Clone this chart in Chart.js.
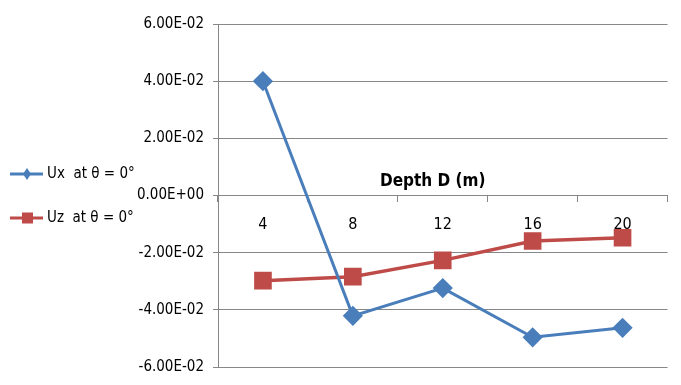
<!DOCTYPE html>
<html>
<head>
<meta charset="utf-8">
<title>Displacement vs depth</title>
<script src="https://cdn.jsdelivr.net/npm/chart.js@4/dist/chart.umd.min.js"></script>
<style>
  html, body { margin: 0; padding: 0; background: #fff; }
  #wrap { width: 681px; height: 385px; }
</style>
</head>
<body>
<div id="wrap"><canvas id="chart" width="681" height="385"></canvas></div>
<script>
// depth categories (m) and displacements at theta = 0
const depths = ['4', '8', '12', '16', '20'];
const uxValues = [0.0400, -0.0421, -0.0324, -0.0496, -0.0463];
const uzValues = [-0.0298, -0.0284, -0.0227, -0.0159, -0.0148];
const seriesNames = ['Ux  at \u03B8 = 0\u00B0', 'Uz  at \u03B8 = 0\u00B0'];
const axisTitle = 'Depth D (m)';

const FONT = '"Liberation Sans Narrow", "DejaVu Sans Condensed", sans-serif';
const GRID = '#878787';

// 6.00E-02 style labels
function sciLabel(v) {
    if (Math.abs(v) < 1e-12) v = 0;
    const [m, e] = v.toExponential(2).split('e');
    const sign = e[0] === '-' ? '-' : '+';
    const digits = e.replace(/[+-]/, '').padStart(2, '0');
    return m + 'E' + sign + digits;
}

// legend on the left side, line sample with marker
const sideLegend = {
    id: 'sideLegend',
    afterDraw(chart) {
        const ctx = chart.ctx;
        const rows = [174, 218];
        chart.data.datasets.forEach((ds, i) => {
            const y = rows[i];
            ctx.save();
            ctx.strokeStyle = ds.borderColor;
            ctx.lineWidth = 3;
            ctx.beginPath();
            ctx.moveTo(10, y);
            ctx.lineTo(43, y);
            ctx.stroke();
            ctx.fillStyle = ds.borderColor;
            ctx.beginPath();
            if (ds.pointStyle === 'rectRot') {
                ctx.moveTo(27, y - 6);
                ctx.lineTo(31, y);
                ctx.lineTo(27, y + 6);
                ctx.lineTo(23, y);
                ctx.closePath();
            } else {
                ctx.rect(22, y - 5.5, 11, 11);
            }
            ctx.fill();
            ctx.fillStyle = '#000';
            ctx.font = '15px ' + FONT;
            ctx.textBaseline = 'middle';
            ctx.textAlign = 'left';
            ctx.fillText(ds.label, 47, y);
            ctx.restore();
        });
    }
};

// axis title sits above the zero line
const depthTitle = {
    id: 'depthTitle',
    afterDraw(chart) {
        const ctx = chart.ctx;
        const area = chart.chartArea;
        const y0 = chart.scales.y.getPixelForValue(0);
        ctx.save();
        ctx.fillStyle = '#000';
        ctx.font = 'bold 17px ' + FONT;
        ctx.textAlign = 'center';
        ctx.textBaseline = 'middle';
        ctx.fillText(axisTitle, (area.left + area.right) / 2 - 10, y0 - 14);
        ctx.restore();
    }
};

new Chart(document.getElementById('chart'), {
    type: 'line',
    data: {
        labels: depths,
        datasets: [{
            label: seriesNames[0],
            data: uxValues,
            borderColor: '#4A7EBB',
            backgroundColor: '#4A7EBB',
            borderWidth: 3,
            pointStyle: 'rectRot',
            pointRadius: 8,
            pointHoverRadius: 8,
            tension: 0
        }, {
            label: seriesNames[1],
            data: uzValues,
            borderColor: '#BE4B48',
            backgroundColor: '#BE4B48',
            borderWidth: 3.5,
            pointStyle: 'rect',
            pointRadius: 10,
            pointHoverRadius: 10,
            tension: 0
        }]
    },
    options: {
        responsive: false,
        animation: false,
        layout: { padding: { left: 130, top: 24, right: 12, bottom: 17 } },
        plugins: {
            legend: { display: false },
            tooltip: { enabled: false }
        },
        scales: {
            x: {
                type: 'category',
                position: { y: 0 },
                offset: true,
                grid: {
                    offset: true,
                    drawOnChartArea: false,
                    tickLength: 6,
                    color: GRID
                },
                border: { color: GRID, width: 1 },
                ticks: {
                    color: '#000',
                    padding: 14,
                    font: { family: FONT, size: 16 }
                }
            },
            y: {
                min: -0.06,
                max: 0.06,
                afterFit(scale) { scale.width = 88; },
                grid: { color: GRID, tickLength: 5 },
                border: { color: GRID, width: 1 },
                ticks: {
                    stepSize: 0.02,
                    color: '#000',
                    padding: 9,
                    font: { family: FONT, size: 15 },
                    callback: v => sciLabel(v)
                }
            }
        }
    },
    plugins: [sideLegend, depthTitle]
});
</script>
</body>
</html>
